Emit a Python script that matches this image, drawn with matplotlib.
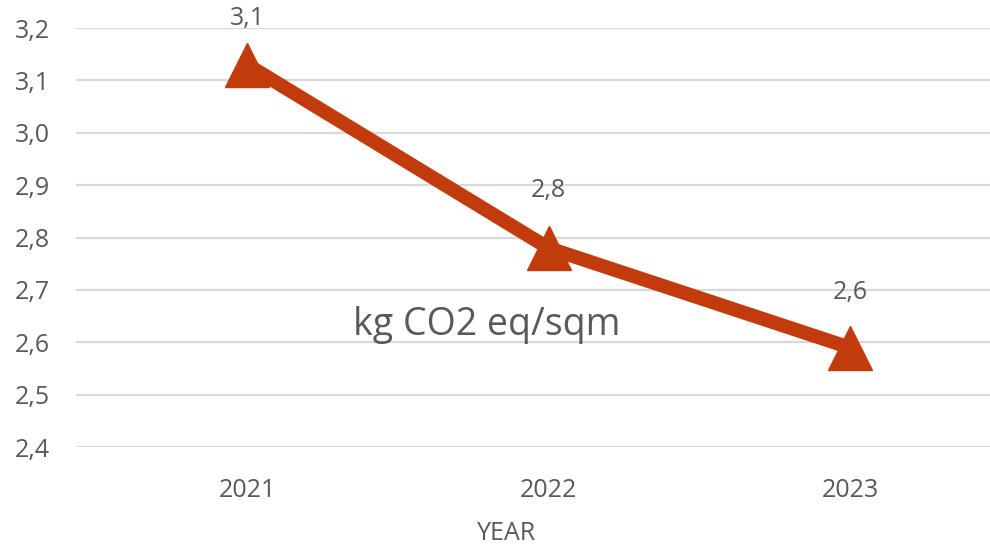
import matplotlib.pyplot as plt

# data
years = ["2021", "2022", "2023"]
values = [3.13, 2.78, 2.59]
y_ticks = [2.4, 2.5, 2.6, 2.7, 2.8, 2.9, 3.0, 3.1, 3.2]

plt.rcParams['font.family'] = ['Open Sans', 'DejaVu Sans']
grey = "#595959"
red = "#C23B0C"

fig = plt.figure(figsize=(9.9, 5.46), dpi=100)
ax = fig.add_axes([0.0768, 0.181, 0.9232, 0.7677])

x = list(range(len(years)))
ax.plot(x, values, color=red, linewidth=10, marker="^", markersize=32,
        solid_joinstyle="miter", zorder=3)

# data labels above each point (offsets in pixels -> points)
offsets = [46, 58, 55]
for xi, v, off in zip(x, values, offsets):
    ax.annotate(f"{v:.1f}".replace(".", ","), (xi, v),
                xytext=(0, off * 0.72), textcoords="offset points",
                ha="center", va="center", fontsize=18, color=grey,
                annotation_clip=False)

ax.set_xlim(-0.568, 2.465)
ax.set_ylim(2.4, 3.2)
ax.set_yticks(y_ticks)
ax.set_yticklabels([f"{t:.1f}".replace(".", ",") for t in y_ticks])
ax.set_xticks(x)
ax.set_xticklabels(years)
ax.grid(axis="y", color="#D9D9D9", linewidth=1.6)
ax.set_axisbelow(True)
for s in ax.spines.values():
    s.set_visible(False)
ax.tick_params(axis="both", length=0, labelsize=18, colors=grey)
ax.tick_params(axis="y", pad=19)
ax.tick_params(axis="x", pad=22)

ax.text(0.795, 2.633, "kg CO2 eq/sqm", fontsize=27, color=grey,
        ha="center", va="center")
fig.text(507 / 990, 1 - 534 / 546, "YEAR", fontsize=18, color=grey,
         ha="center", va="center")

fig.savefig("out.png", dpi=100)
